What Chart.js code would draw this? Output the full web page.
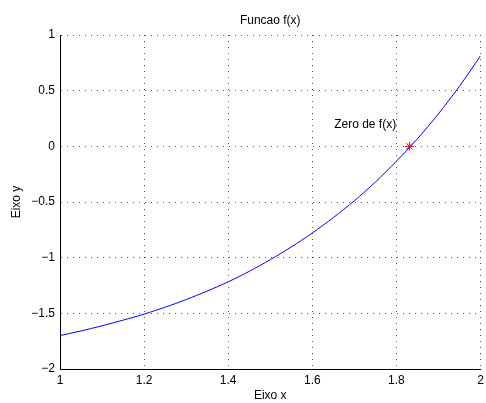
<!DOCTYPE html>
<html>
<head>
<meta charset="utf-8">
<script src="https://cdn.jsdelivr.net/npm/chart.js@4/dist/chart.umd.min.js"></script>
<style>
    html, body { margin: 0; padding: 0; background: #fff; }
    #wrap { width: 486px; height: 403px; }
</style>
</head>
<body>
<div id="wrap"><canvas id="chart" width="486" height="403"></canvas></div>
<script>
// values
let xValues = [1, 1.05, 1.1, 1.15, 1.2, 1.25, 1.3, 1.35, 1.4, 1.45, 1.5, 1.55, 1.6, 1.65, 1.7, 1.75, 1.8, 1.85, 1.9, 1.95, 2];
let yValues = [-1.70, -1.658, -1.612, -1.561, -1.507, -1.445, -1.376, -1.300, -1.217, -1.123, -1.018, -0.904, -0.778, -0.640, -0.489, -0.321, -0.134, 0.068, 0.292, 0.540, 0.812];

let zeroX = [1.831];
let zeroY = [0];

let xTickValues = [1, 1.2, 1.4, 1.6, 1.8, 2];
let xTickLabels = ['1', '1.2', '1.4', '1.6', '1.8', '2'];
let yTickValues = [-2, -1.5, -1, -0.5, 0, 0.5, 1];
let yTickLabels = ['\u22122', '\u22121.5', '\u22121', '\u22120.5', '0', '0.5', '1'];

let titleText = 'Funcao f(x)';
let xLabel = 'Eixo x';
let yLabel = 'Eixo y';
let noteText = 'Zero de f(x)';
let noteX = 1.652;
let noteY = 0.19;

let fontFamily = '"Liberation Sans", Arial, Helvetica, sans-serif';

// matlab puts the title over the middle of the axes, not the whole figure,
// and text() labels sit in data coordinates
const textPlugin = {
    id: 'texts',
    afterDatasetsDraw(chart) {
        let ctx = chart.ctx;
        let area = chart.chartArea;
        ctx.save();
        ctx.font = '12px ' + fontFamily;
        ctx.fillStyle = '#000';
        ctx.textBaseline = 'middle';

        ctx.textAlign = 'center';
        ctx.fillText(titleText, (area.left + area.right) / 2, area.top - 14);

        let px = chart.scales.x.getPixelForValue(noteX);
        let py = chart.scales.y.getPixelForValue(noteY);
        ctx.textAlign = 'left';
        ctx.fillText(noteText, px, py);
        ctx.restore();
    }
};

let points = xValues.map((x, i) => ({ x: x, y: yValues[i] }));
let zeroPoints = zeroX.map((x, i) => ({ x: x, y: zeroY[i] }));

let ctx = document.getElementById('chart').getContext('2d');
new Chart(ctx, {
    type: 'line',
    data: {
        datasets: [{
            data: points,
            order: 1,
            borderColor: '#0000ff',
            borderWidth: 1,
            pointRadius: 0,
            tension: 0.3,
            fill: false
        }, {
            data: zeroPoints,
            order: 0,
            showLine: false,
            pointStyle: 'star',
            pointRadius: 4.5,
            borderColor: '#ff0000',
            backgroundColor: '#ff0000',
            pointBorderWidth: 1
        }]
    },
    options: {
        responsive: false,
        animation: false,
        layout: { padding: { left: 0, right: 0, top: 35, bottom: 0 } },
        plugins: {
            legend: { display: false },
            tooltip: { enabled: false },
            title: { display: false }
        },
        scales: {
            x: {
                type: 'linear',
                min: 1,
                max: 2,
                afterBuildTicks: scale => { scale.ticks = xTickValues.map(v => ({ value: v })); },
                afterFit: scale => {
                    scale.height = 34;
                    // only room for half of the last label, no extra tick padding
                    scale.paddingRight = 4;
                    scale.paddingLeft = 0;
                },
                ticks: {
                    color: '#000',
                    font: { family: fontFamily, size: 12 },
                    padding: 4,
                    maxRotation: 0,
                    autoSkip: false,
                    callback: (v, i) => xTickLabels[i]
                },
                grid: {
                    color: '#555',
                    lineWidth: 1,
                    drawTicks: false,
                    tickLength: 0
                },
                border: { display: true, color: '#000', width: 1, dash: [1, 5] },
                title: {
                    display: true,
                    text: xLabel,
                    color: '#000',
                    font: { family: fontFamily, size: 12 },
                    padding: { top: 0, bottom: 0 }
                }
            },
            y: {
                type: 'linear',
                min: -2,
                max: 1,
                afterBuildTicks: scale => { scale.ticks = yTickValues.map(v => ({ value: v })); },
                afterFit: scale => {
                    scale.width = 60;
                    scale.paddingTop = 0;
                    scale.paddingBottom = 0;
                },
                ticks: {
                    color: '#000',
                    font: { family: fontFamily, size: 12 },
                    padding: 5,
                    autoSkip: false,
                    callback: (v, i) => yTickLabels[i]
                },
                grid: {
                    color: '#555',
                    lineWidth: 1,
                    drawTicks: false,
                    tickLength: 0
                },
                border: { display: true, color: '#000', width: 1, dash: [1, 5] },
                title: {
                    display: true,
                    text: yLabel,
                    color: '#000',
                    font: { family: fontFamily, size: 12 },
                    padding: { top: 9.5, bottom: 0 }
                }
            }
        }
    },
    plugins: [textPlugin]
});
</script>
</body>
</html>
